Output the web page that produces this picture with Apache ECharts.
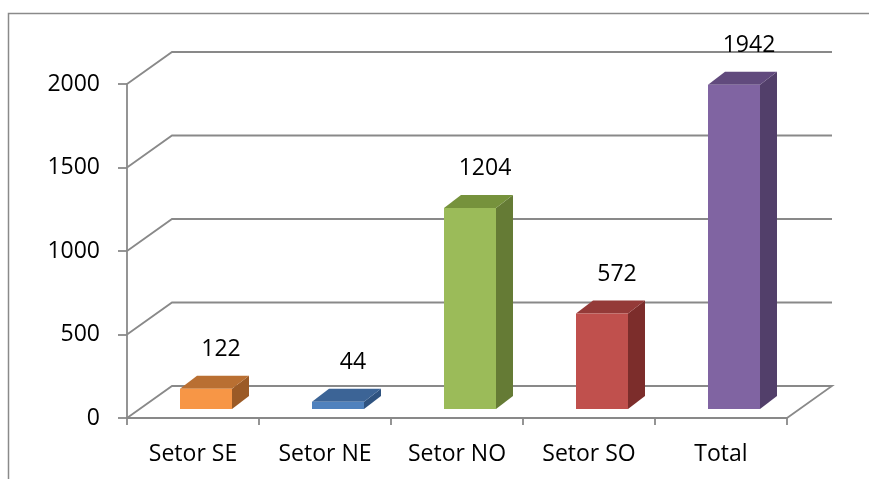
<!DOCTYPE html>
<html>
<head>
<meta charset="utf-8">
<script src="https://cdn.jsdelivr.net/npm/echarts@6/dist/echarts.min.js"></script>
<style>
html,body{margin:0;padding:0;background:#fff;}
#chart{width:869px;height:479px;}
</style>
</head>
<body>
<div id="chart"></div>
<script>
// ---- data ----
var categories = ['Setor SE', 'Setor NE', 'Setor NO', 'Setor SO', 'Total'];
var values = [122, 44, 1204, 572, 1942];
var yTicks = [0, 500, 1000, 1500, 2000];

// ---- styles ----
var frontColors = ['#F79646', '#4F81BD', '#9BBB59', '#C0504D', '#8064A2'];
var topColors   = ['#B96F32', '#3C6496', '#76923C', '#943A38', '#614A7D'];
var sideColors  = ['#9B5A26', '#2F5380', '#657B35', '#7C2D2B', '#523F6A'];
var FONT = '"Open Sans", sans-serif';
var FS = 23;
var GRID_COLOR = '#898989';
var DX = 45, DY = -32;       // floor depth
var BOFF_X = 13, BOFF_Y = -9; // bar front face offset into floor
var BDX = 17, BDY = -13;      // bar depth
var HALF_W = 26;

var chart = echarts.init(document.getElementById('chart'));

function wallItem(params, api) {
  var cs = params.coordSys;
  var left = cs.x, right = cs.x + cs.width;
  var y = api.coord([0, api.value(0)])[1];
  var pts = [[left, y], [left + DX, y + DY], [right + DX, y + DY]];
  if (api.value(0) === 0) pts.push([right, y]);
  return {
    type: 'polyline',
    shape: { points: pts },
    style: { stroke: GRID_COLOR, lineWidth: 1.8, fill: null },
    z2: 0
  };
}

function barItem(params, api) {
  var idx = api.value(0);
  var v = api.value(1);
  var top = api.coord([idx, v]);
  var base = api.coord([idx, 0]);
  var cx = top[0] + BOFF_X;
  var x0 = cx - HALF_W, x1 = cx + HALF_W;
  var yb = base[1] + BOFF_Y;
  var yt = top[1] + BOFF_Y;
  var i = params.dataIndex;
  return {
    type: 'group',
    children: [
      { type: 'polygon', shape: { points: [[x1, yb], [x1 + BDX, yb + BDY], [x1 + BDX, yt + BDY], [x1, yt]] },
        style: { fill: sideColors[i] } },
      { type: 'polygon', shape: { points: [[x0, yt], [x0 + BDX, yt + BDY], [x1 + BDX, yt + BDY], [x1, yt]] },
        style: { fill: topColors[i] } },
      { type: 'rect', shape: { x: x0, y: yt, width: x1 - x0, height: yb - yt },
        style: { fill: frontColors[i] } },
      { type: 'text', x: top[0] + 28, y: yt - 39,
        style: { text: String(v), fill: '#000', font: FS + 'px ' + FONT, align: 'center', verticalAlign: 'middle' } }
    ]
  };
}

chart.setOption({
  animation: false,
  backgroundColor: '#fff',
  graphic: [{
    type: 'polyline',
    shape: { points: [[8.5, 479], [8.5, 13.5], [869, 13.5]] },
    style: { stroke: '#8a8a8a', lineWidth: 1.5, fill: null },
    silent: true
  }],
  grid: { left: 127, right: 82, top: 84, bottom: 61 },
  xAxis: {
    type: 'category',
    data: categories,
    axisLine: { lineStyle: { color: GRID_COLOR, width: 1.8 } },
    axisTick: { show: true, length: 7, lineStyle: { color: GRID_COLOR, width: 1.8 } },
    axisLabel: { color: '#000', fontSize: FS, fontFamily: FONT, margin: 25 },
    splitLine: { show: false }
  },
  yAxis: {
    type: 'value',
    min: 0, max: 2000, interval: 500,
    axisLine: { show: true, lineStyle: { color: GRID_COLOR, width: 1.8 } },
    axisTick: { show: true, length: 9, lineStyle: { color: GRID_COLOR, width: 1.8 } },
    axisLabel: { color: '#000', fontSize: FS, fontFamily: FONT, margin: 27,
      formatter: function (v) { return String(v); } },
    splitLine: { show: false }
  },
  series: [
    {
      type: 'custom',
      renderItem: wallItem,
      data: yTicks.map(function (t) { return [t]; }),
      encode: { y: 0 },
      silent: true,
      z: 1
    },
    {
      type: 'custom',
      renderItem: barItem,
      data: values.map(function (v, i) { return [i, v]; }),
      encode: { x: 0, y: 1 },
      silent: true,
      z: 3
    }
  ]
});
</script>
</body>
</html>
